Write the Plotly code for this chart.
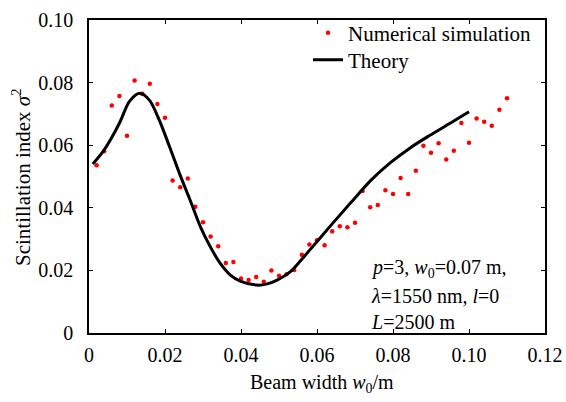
import plotly.graph_objects as go

# Numerical simulation (red dots)
sim_x = [0.002, 0.004, 0.006, 0.008, 0.010, 0.012, 0.014, 0.016, 0.018, 0.020,
         0.022, 0.024, 0.026, 0.028, 0.030, 0.032, 0.034, 0.036, 0.038, 0.040,
         0.042, 0.044, 0.046, 0.048, 0.050, 0.052, 0.054, 0.056, 0.058, 0.060,
         0.062, 0.064, 0.066, 0.068, 0.070, 0.072, 0.074, 0.076, 0.078, 0.080,
         0.082, 0.084, 0.086, 0.088, 0.090, 0.092, 0.094, 0.096, 0.098, 0.100,
         0.102, 0.104, 0.106, 0.108, 0.110]
sim_y = [0.0536, 0.0581, 0.0727, 0.0757, 0.0630, 0.0807, 0.0764, 0.0796, 0.0732, 0.0688,
         0.0487, 0.0466, 0.0494, 0.0403, 0.0354, 0.0308, 0.0277, 0.0224, 0.0227, 0.0174,
         0.0169, 0.0179, 0.0164, 0.0200, 0.0183, 0.0188, 0.0201, 0.0250, 0.0283, 0.0296,
         0.0280, 0.0325, 0.0341, 0.0338, 0.0352, 0.0454, 0.0402, 0.0409, 0.0456, 0.0444,
         0.0495, 0.0444, 0.0518, 0.0598, 0.0576, 0.0606, 0.0554, 0.0582, 0.0671, 0.0608,
         0.0685, 0.0675, 0.0662, 0.0713, 0.0750]

# Theory (black curve)
th_x = [0.001, 0.004, 0.008, 0.0106, 0.0133, 0.0159, 0.0185, 0.0212, 0.0238, 0.0266,
        0.0293, 0.0319, 0.0345, 0.0372, 0.0398, 0.0442, 0.0469, 0.0495, 0.053, 0.0556,
        0.0583, 0.0636, 0.0688, 0.0741, 0.0794, 0.0847, 0.0895, 0.0961, 0.100]
th_y = [0.0540, 0.0585, 0.0670, 0.0739, 0.0766, 0.0744, 0.0680, 0.0595, 0.0510, 0.0425,
        0.0340, 0.0276, 0.0223, 0.0185, 0.0166, 0.0153, 0.0157, 0.0169, 0.0196, 0.0230,
        0.0268, 0.0343, 0.0415, 0.0487, 0.0545, 0.0593, 0.0630, 0.0678, 0.0707]

x_ticks = [0, 0.02, 0.04, 0.06, 0.08, 0.10, 0.12]
x_labels = ["0", "0.02", "0.04", "0.06", "0.08", "0.10", "0.12"]
y_ticks = [0, 0.02, 0.04, 0.06, 0.08, 0.10]
y_labels = ["0", "0.02", "0.04", "0.06", "0.08", "0.10"]

param_lines = ["<i>p</i>=3, <i>w</i><sub>0</sub>=0.07 m,",
               "<i>λ</i>=1550 nm, <i>l</i>=0",
               "<i>L</i>=2500 m"]
x_title = "Beam width <i>w</i><sub>0</sub>/m"
y_title = "Scintillation index <i>σ</i><sup>2</sup>"

FONT = "Liberation Serif, Times New Roman, serif"
L, R, T, B = 89, 21, 20, 69
W, H = 566, 402
PW, PH = W - L - R, H - T - B


def px_x(p):
    return (p - L) / PW


def px_y(p):
    return (H - B - p) / PH


fig = go.Figure()
fig.add_trace(go.Scatter(x=sim_x, y=sim_y, mode="markers", name="Numerical simulation",
                         marker=dict(color="#ff0000", size=4.5), legend="legend"))
fig.add_trace(go.Scatter(x=th_x, y=th_y, mode="lines", name="Theory",
                         line=dict(color="black", width=3, shape="spline", smoothing=0.8),
                         legend="legend2"))

axis_common = dict(showline=True, linecolor="black", linewidth=1.5, mirror="ticks",
                   ticks="inside", ticklen=4, tickwidth=1, tickcolor="black",
                   showgrid=False, zeroline=False, automargin=False,
                   tickfont=dict(family=FONT, size=20, color="black"))

fig.update_xaxes(range=[0, 0.12], tickvals=x_ticks, ticktext=x_labels,
                 ticklabelstandoff=3, **axis_common)
fig.update_yaxes(range=[0, 0.10], tickvals=y_ticks, ticktext=y_labels,
                 ticklabelstandoff=10, **axis_common)

# axis titles
fig.add_annotation(xref="paper", yref="paper", x=px_x(322), y=px_y(383),
                   xanchor="center", yanchor="middle", showarrow=False,
                   text=x_title, font=dict(family=FONT, size=20, color="black"))
fig.add_annotation(xref="paper", yref="paper", x=px_x(21), y=px_y(177),
                   xanchor="center", yanchor="middle", showarrow=False, textangle=-90,
                   text=y_title, font=dict(family=FONT, size=21, color="black"))

for txt, yc in zip(param_lines, [268, 296, 322]):
    fig.add_annotation(xref="paper", yref="paper", x=px_x(369), y=px_y(yc),
                       xanchor="left", yanchor="middle", align="left", showarrow=False,
                       text=txt, font=dict(family=FONT, size=20, color="black"))

leg_common = dict(xanchor="left", yanchor="middle", bgcolor="rgba(0,0,0,0)",
                  font=dict(family=FONT, size=21, color="black"), itemwidth=30)

fig.update_layout(
    width=W, height=H,
    margin=dict(l=L, r=R, t=T, b=B),
    paper_bgcolor="white", plot_bgcolor="white",
    font=dict(family=FONT, size=20, color="black"),
    legend=dict(x=px_x(308), y=px_y(33), **leg_common),
    legend2=dict(x=px_x(308), y=px_y(60), **leg_common),
    showlegend=True,
)

fig.write_html("out.html", config={"displayModeBar": False},
               post_script="document.body.style.margin='0';document.body.style.padding='0';")
